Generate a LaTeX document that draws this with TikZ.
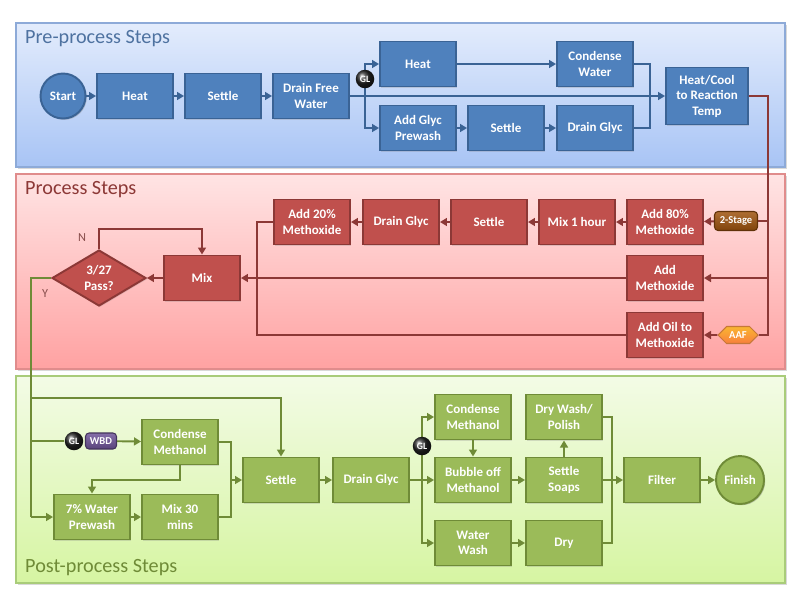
\documentclass[tikz,border=0pt]{standalone}
\usepackage{fontspec}
\setmainfont{Carlito}
\usepackage{xcolor}
\usepackage{tikz}
\usetikzlibrary{arrows.meta,positioning}
\usetikzlibrary{shapes.geometric,shapes.symbols}
\usetikzlibrary{shadows}
\definecolor{BlueFill}{HTML}{4F81BD}
\definecolor{BlueLine}{HTML}{3A6395}
\definecolor{RedFill}{HTML}{C0504D}
\definecolor{RedLine}{HTML}{8C3836}
\definecolor{GreenFill}{HTML}{9BBB59}
\definecolor{GreenLine}{HTML}{6F8B37}
\definecolor{PreTop}{HTML}{E3ECFC}
\definecolor{PreBottom}{HTML}{A8C4F5}
\definecolor{PreBorder}{HTML}{8DAAD8}
\definecolor{ProTop}{HTML}{FFE4E4}
\definecolor{ProBottom}{HTML}{FFA2A2}
\definecolor{ProBorder}{HTML}{E08C8C}
\definecolor{PostTop}{HTML}{F3FBE6}
\definecolor{PostBottom}{HTML}{D6F5A2}
\definecolor{PostBorder}{HTML}{A9CC7A}
\definecolor{WbdColor}{HTML}{70559A}
\definecolor{StageColor}{HTML}{A0540F}
\definecolor{AafColor}{HTML}{F79646}

\begin{document}
\begin{tikzpicture}[
    x=0.02cm, y=-0.02cm,
    >={Triangle[length=4pt,width=4.5pt]},
    every node/.style={font=\fontsize{7.4}{8.8}\selectfont\bfseries, text=white, align=center},
    stepbox/.style={rectangle, minimum width=1.52cm, minimum height=0.9cm, inner sep=1pt,
      line width=1.1pt, drop shadow={opacity=0.25, shadow xshift=0.7pt, shadow yshift=-0.7pt}},
    bluebox/.style={stepbox, fill=BlueFill, draw=BlueLine},
    redbox/.style={stepbox, fill=RedFill, draw=RedLine},
    greenbox/.style={stepbox, fill=GreenFill, draw=GreenLine},
    endcircle/.style={stepbox, circle, minimum width=0pt, minimum height=0pt},
    blueline/.style={draw=BlueLine, line width=1.1pt},
    redline/.style={draw=RedLine, line width=1.1pt},
    greenline/.style={draw=GreenLine, line width=1.1pt},
    panel/.style={line width=0.8pt, drop shadow={opacity=0.3, shadow xshift=1.2pt, shadow yshift=-1.2pt}},
    paneltitle/.style={anchor=west, font=\fontsize{11.5}{13}\selectfont},
    glball/.style={circle, ball color=black!85, minimum size=0.37cm, inner sep=0pt,
      font=\fontsize{5.5}{6}\selectfont\bfseries},
    tagbox/.style={rectangle, rounded corners=2pt, inner sep=1pt, line width=0.6pt,
      font=\fontsize{6}{7}\selectfont\bfseries},
    branchlabel/.style={font=\fontsize{7}{8}\selectfont, text=RedLine!70!gray},
  ]
  \useasboundingbox (0,0) rectangle (800,600);

  % panels
  \draw[panel, draw=PreBorder, top color=PreTop, bottom color=PreBottom] (16,23) rectangle (785,167);
  \draw[panel, draw=ProBorder, top color=ProTop, bottom color=ProBottom] (16,174) rectangle (785,369);
  \draw[panel, draw=PostBorder, top color=PostTop, bottom color=PostBottom] (16,376) rectangle (785,583);
  \node[paneltitle, text=BlueLine!90!white] (pretitle) at (19,39) {Pre-process Steps};
  \node[paneltitle, text=RedLine] (protitle) at (19,190) {Process Steps};
  \node[paneltitle, text=GreenLine] (posttitle) at (19,568) {Post-process Steps};

  % pre-process
  \node[bluebox, endcircle, minimum size=0.9cm] (start) at (63,96) {Start};
  \node[bluebox] (heat) at (135,96) {Heat};
  \node[bluebox] (settle) at (223,96) {Settle};
  \node[bluebox] (drainfree) at (311,96) {Drain Free\\Water};
  \node[bluebox] (heattwo) at (418,64) {Heat};
  \node[bluebox] (condensewater) at (595,64) {Condense\\Water};
  \node[bluebox] (addglyc) at (418,128) {Add Glyc\\Prewash};
  \node[bluebox] (settletwo) at (506,128) {Settle};
  \node[bluebox] (drainglyc) at (595,128) {Drain Glyc};
  \node[bluebox, minimum width=1.64cm, minimum height=1.14cm] (reactemp) at (707,96) {Heat/Cool\\to Reaction\\Temp};
  \coordinate (presplit) at (365,96);
  \coordinate (prejoin) at (650,96);

  \draw[blueline,->] (start) -- (heat);
  \draw[blueline,->] (heat) -- (settle);
  \draw[blueline,->] (settle) -- (drainfree);
  \draw[blueline,->] (drainfree) -- (reactemp);
  \draw[blueline,->] (presplit) |- (heattwo);
  \draw[blueline,->] (presplit) |- (addglyc);
  \draw[blueline,->] (heattwo) -- (condensewater);
  \draw[blueline,->] (addglyc) -- (settletwo);
  \draw[blueline,->] (settletwo) -- (drainglyc);
  \draw[blueline] (condensewater.east) -| (prejoin) |- (drainglyc.east);
  \node[glball] (glpre) at (365,79) {GL};

  % process
  \node[redbox] (addeighty) at (665,222) {Add 80\%\\Methoxide};
  \node[redbox] (mixhour) at (577,222) {Mix 1 hour};
  \node[redbox] (settlered) at (489,222) {Settle};
  \node[redbox] (drainred) at (401,222) {Drain Glyc};
  \node[redbox] (addtwenty) at (312,222) {Add 20\%\\Methoxide};
  \node[redbox] (addmeth) at (665,278) {Add\\Methoxide};
  \node[redbox] (addoil) at (665,335) {Add Oil to\\Methoxide};
  \node[redbox] (mix) at (202,278) {Mix};
  \node[redbox, diamond, minimum width=1.88cm, minimum height=1.12cm, inner sep=0pt] (pass) at (99,278) {3/27\\Pass?};
  \node[tagbox, draw=StageColor!60!black, top color=StageColor!85!white, bottom color=StageColor!80!black,
    minimum width=0.86cm, minimum height=0.38cm] (twostage) at (736,221) {2-Stage};
  \node[tagbox, signal, signal to=west and east, rounded corners=0pt, draw=AafColor!80!black,
    top color=AafColor!70!yellow, bottom color=AafColor!85!red, minimum width=0.8cm, minimum height=0.34cm] (aaf) at (738,335) {AAF};
  \coordinate (redtop) at (768,96);
  \coordinate (redbottom) at (768,335);
  \coordinate (redloop) at (257,335);
  \coordinate (nloop) at (99,229);

  \draw[redline] (reactemp.east) -- (redtop) -- (redbottom) -- (aaf);
  \draw[redline] (redtop |- twostage) -- (twostage);
  \draw[redline,->] (twostage) -- (addeighty);
  \draw[redline,->] (redtop |- addmeth) -- (addmeth);
  \draw[redline,->] (aaf) -- (addoil);
  \draw[redline,->] (addeighty) -- (mixhour);
  \draw[redline,->] (mixhour) -- (settlered);
  \draw[redline,->] (settlered) -- (drainred);
  \draw[redline,->] (drainred) -- (addtwenty);
  \draw[redline] (addtwenty.west) -| (redloop) -- (addoil.west);
  \draw[redline,->] (addmeth) -- (mix);
  \draw[redline,->] (mix) -- (pass);
  \draw[redline,->] (pass.north) -- (nloop) -| (mix.north);
  \node[branchlabel] (nlabel) at (82,238) {N};
  \node[branchlabel] (ylabel) at (45,294) {Y};

  % post-process
  \node[greenbox] (condmeth) at (180,442) {Condense\\Methanol};
  \node[greenbox] (prewash) at (92,517) {7\% Water\\Prewash};
  \node[greenbox] (mixthirty) at (180,517) {Mix 30\\mins};
  \node[greenbox] (settlegreen) at (281,480) {Settle};
  \node[greenbox] (draingreen) at (371,480) {Drain Glyc};
  \node[greenbox] (condmethtwo) at (473,417) {Condense\\Methanol};
  \node[greenbox] (bubble) at (473,480) {Bubble off\\Methanol};
  \node[greenbox] (waterwash) at (473,543) {Water\\Wash};
  \node[greenbox] (drywash) at (564,417) {Dry Wash/\\Polish};
  \node[greenbox] (settlesoaps) at (564,480) {Settle\\Soaps};
  \node[greenbox] (dry) at (564,543) {Dry};
  \node[greenbox] (filter) at (662,480) {Filter};
  \node[greenbox, endcircle, minimum size=0.96cm] (finish) at (740,480) {Finish};
  \coordinate (ycorner) at (31,278);
  \coordinate (ybottom) at (31,517);
  \coordinate (ybranch) at (31,398);
  \coordinate (ywbd) at (31,441);
  \coordinate (cmdown) at (180,480);
  \coordinate (gjoin) at (231,480);
  \coordinate (gsplit) at (422,480);
  \coordinate (fjoin) at (612,480);

  \draw[greenline] (pass.west) -- (ycorner) -- (ybottom);
  \draw[greenline,->] (ybottom) -- (prewash);
  \draw[greenline,->] (ybranch) -| (settlegreen.north);
  \node[glball] (glwbd) at (74,441) {GL};
  \node[tagbox, draw=WbdColor!60!black, top color=WbdColor!85!white, bottom color=WbdColor!80!black,
    minimum width=0.62cm, minimum height=0.32cm] (wbd) at (101,441) {WBD};
  \draw[greenline] (ywbd) -- (glwbd);
  \draw[greenline,->] (wbd) -- (condmeth);
  \draw[greenline,->] (condmeth.south) -- (cmdown) -| (prewash.north);
  \draw[greenline,->] (prewash) -- (mixthirty);
  \draw[greenline] (condmeth.east) -| (gjoin) |- (mixthirty.east);
  \draw[greenline,->] (gjoin) -- (settlegreen);
  \draw[greenline,->] (settlegreen) -- (draingreen);
  \draw[greenline] (draingreen) -- (gsplit);
  \draw[greenline,->] (gsplit) |- (condmethtwo);
  \draw[greenline,->] (gsplit) -- (bubble);
  \draw[greenline,->] (gsplit) |- (waterwash);
  \node[glball] (glpost) at (422,446) {GL};
  \draw[greenline,->] (condmethtwo) -- (bubble);
  \draw[greenline,->] (bubble) -- (settlesoaps);
  \draw[greenline,->] (settlesoaps) -- (drywash);
  \draw[greenline,->] (waterwash) -- (dry);
  \draw[greenline] (drywash.east) -| (fjoin) |- (dry.east);
  \draw[greenline,->] (settlesoaps) -- (filter);
  \draw[greenline,->] (filter) -- (finish);
\end{tikzpicture}
\end{document}
